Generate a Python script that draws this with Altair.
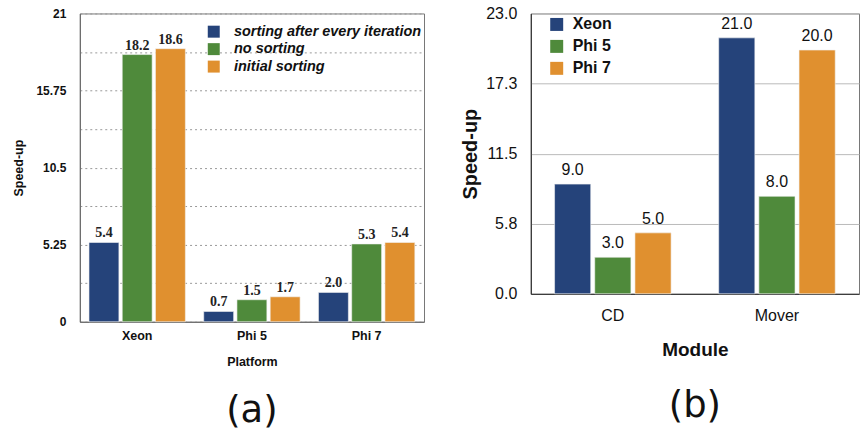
import altair as alt
import pandas as pd

# ---- data (a) ----
platforms = ["Xeon", "Phi 5", "Phi 7"]
methods = ["sorting after every iteration", "no sorting", "initial sorting"]
sort_after_every = [5.4, 0.7, 2.0]
no_sorting = [18.2, 1.5, 5.3]
initial_sorting = [18.6, 1.7, 5.4]
a_ticks = [0, 2.625, 5.25, 7.875, 10.5, 13.125, 15.75, 18.375, 21]

# ---- data (b) ----
modules = ["CD", "Mover"]
b_series = ["Xeon", "Phi 5", "Phi 7"]
xeon_b = [9.0, 21.0]
phi5_b = [3.0, 8.0]
phi7_b = [5.0, 20.0]
b_ticks = [0, 5.75, 11.5, 17.25, 23]

colors = ["#25437a", "#4f8a3b", "#e0902f"]

rows_a = []
for series, vals in zip(methods, [sort_after_every, no_sorting, initial_sorting]):
    for p, v in zip(platforms, vals):
        rows_a.append({"platform": p, "method": series, "value": v})
df_a = pd.DataFrame(rows_a)

rows_b = []
for series, vals in zip(b_series, [xeon_b, phi5_b, phi7_b]):
    for m, v in zip(modules, vals):
        rows_b.append({"module": m, "proc": series, "value": v})
df_b = pd.DataFrame(rows_b)

SANS = "Liberation Sans, Arial, Helvetica, sans-serif"
SERIF = "Liberation Serif, Times New Roman, serif"

# ---------- panel (a) ----------
xa = alt.X("platform:N",
           scale=alt.Scale(domain=platforms, paddingInner=0.16, paddingOuter=0.08),
           axis=alt.Axis(title="Platform", labelAngle=0, ticks=False, grid=False,
                         labelFont=SANS, labelFontWeight="bold", labelFontSize=12.5,
                         labelColor="#111", labelPadding=8,
                         titleFont=SANS, titleFontWeight="bold", titleFontSize=12.5,
                         titleColor="#111", titlePadding=13,
                         domainColor="#666"))
xoa = alt.XOffset("method:N", scale=alt.Scale(domain=methods, paddingInner=0.1))
ya = alt.Y("value:Q", scale=alt.Scale(domain=[0, 21], nice=False),
           axis=alt.Axis(title="Speed-up", values=a_ticks, ticks=False,
                         labelExpr="datum.value % 5.25 == 0 ? format(datum.value, '~g') : ''",
                         labelFont=SANS, labelFontWeight="bold", labelFontSize=12,
                         labelColor="#111", labelPadding=14,
                         titleFont=SANS, titleFontWeight="bold", titleFontSize=12.5,
                         titleColor="#111", titlePadding=10,
                         grid=True, gridDash=[2, 3], gridColor="#999", gridWidth=1,
                         domainColor="#666"))

bars_a = alt.Chart(df_a).mark_bar(stroke="#f2f2f2", strokeWidth=0.6).encode(
    x=xa, xOffset=xoa, y=ya,
    color=alt.Color("method:N",
                    scale=alt.Scale(domain=methods, range=colors),
                    legend=alt.Legend(title=None, orient="none", legendX=127, legendY=11,
                                      symbolType="square", symbolSize=144,
                                      symbolStrokeWidth=0, symbolOpacity=1,
                                      labelFont=SANS, labelFontStyle="italic",
                                      labelFontWeight="bold", labelFontSize=14.5,
                                      labelColor="#111", labelOffset=13,
                                      rowPadding=2.5, labelLimit=400)),
)
text_a = alt.Chart(df_a).mark_text(dy=-9, font=SERIF, fontWeight="bold",
                                   fontSize=14, color="#222").encode(
    x=xa, xOffset=xoa, y=ya,
    text=alt.Text("value:Q", format=".1f"),
)
chart_a = alt.layer(bars_a, text_a).properties(
    width=345, height=309,
    title=alt.TitleParams("(a)", orient="bottom", fontSize=37, font="DejaVu Sans",
                          fontWeight="normal", color="#111", frame="group",
                          anchor="middle", offset=25),
)

# ---------- panel (b) ----------
xb = alt.X("module:N",
           scale=alt.Scale(domain=modules, paddingInner=0.29, paddingOuter=0.145),
           axis=alt.Axis(title="Module", labelAngle=0, ticks=False, grid=False,
                         labelFont=SANS, labelFontSize=16, labelColor="#111",
                         labelPadding=14,
                         titleFont=SANS, titleFontWeight="bold", titleFontSize=19,
                         titleColor="#111", titlePadding=17,
                         domainColor="#222"))
xob = alt.XOffset("proc:N", scale=alt.Scale(domain=b_series, paddingInner=0.1))
yb = alt.Y("value:Q", scale=alt.Scale(domain=[0, 23], nice=False),
           axis=alt.Axis(title="Speed-up", values=b_ticks, format=".1f", ticks=False,
                         labelFont=SANS, labelFontSize=16, labelColor="#111",
                         labelPadding=14,
                         titleFont=SANS, titleFontWeight="bold", titleFontSize=20,
                         titleColor="#111", titlePadding=5,
                         grid=True, gridColor="#bbb", gridWidth=1,
                         domainColor="#222"))

bars_b = alt.Chart(df_b).mark_bar(stroke="#f2f2f2", strokeWidth=0.6).encode(
    x=xb, xOffset=xob, y=yb,
    color=alt.Color("proc:N",
                    scale=alt.Scale(domain=b_series, range=colors),
                    legend=alt.Legend(title=None, orient="none", legendX=18, legendY=3,
                                      symbolType="square", symbolSize=169,
                                      symbolStrokeWidth=0, symbolOpacity=1,
                                      labelFont=SANS, labelFontWeight="bold",
                                      labelFontSize=16, labelColor="#111",
                                      labelOffset=8, rowPadding=6)),
)
text_b = alt.Chart(df_b).mark_text(dy=-14, font=SANS, fontSize=16,
                                   color="#111").encode(
    x=xb, xOffset=xob, y=yb,
    text=alt.Text("value:Q", format=".1f"),
)
chart_b = alt.layer(bars_b, text_b).properties(
    width=329, height=281,
    title=alt.TitleParams("(b)", orient="bottom", fontSize=37, font="DejaVu Sans",
                          fontWeight="normal", color="#111", frame="group",
                          anchor="middle", offset=28),
)

chart = alt.hconcat(chart_a, chart_b, spacing=35).resolve_scale(
    color="independent", xOffset="independent", x="independent", y="independent"
).properties(
    padding={"left": 12, "top": 4, "right": 1, "bottom": 0}
).configure_view(stroke="#777", strokeWidth=1)

chart.save("out.html", embed_options={"renderer": "svg", "actions": False})
